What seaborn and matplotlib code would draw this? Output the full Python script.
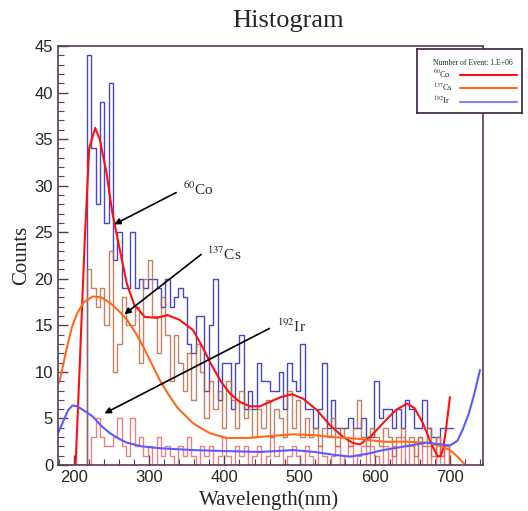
import numpy as np
import pandas as pd
import matplotlib
matplotlib.use('Agg')
import matplotlib.pyplot as plt
import seaborn as sns
from matplotlib.ticker import MultipleLocator

# Histogram binning (ROOT style, fixed width)
bin_start = 182.0
bin_width = 5.8

# Bin contents, one value per bin
co60_counts = [0] * 6 + [
    44, 34, 28, 39, 26, 41, 22, 25, 19, 19,
    25, 19, 20, 19, 20, 20, 19, 17, 20, 17,
    18, 19, 18, 13, 12, 16, 16, 8, 15, 20,
    7, 11, 11, 6, 11, 14, 6, 8, 6, 11,
    9, 9, 8, 8, 10, 6, 11, 9, 8, 13,
    6, 6, 4, 6, 11, 4, 7, 4, 4, 4,
    5, 4, 4, 5, 3, 3, 9, 5, 6, 6,
    4, 6, 4, 7, 6, 4, 4, 7, 4, 3,
    3, 4, 4, 4]
cs137_counts = [0] * 6 + [
    21, 19, 17, 19, 15, 23, 10, 13, 18, 15,
    15, 17, 11, 20, 22, 16, 12, 18, 14, 9,
    14, 11, 8, 12, 7, 13, 10, 5, 9, 6,
    8, 4, 9, 7, 4, 8, 5, 6, 3, 6,
    4, 7, 3, 6, 5, 3, 8, 4, 7, 3,
    5, 3, 4, 2, 4, 3, 5, 2, 4, 3,
    2, 4, 7, 3, 2, 4, 3, 2, 4, 3,
    1, 3, 4, 2, 3, 1, 3, 2, 4, 1,
    3, 1, 2, 0]
ir192_counts = [0] * 6 + [
    0, 3, 5, 3, 2, 2, 3, 5, 2, 1,
    5, 2, 3, 1, 2, 0, 3, 1, 2, 1,
    0, 2, 1, 3, 1, 0, 2, 1, 2, 0,
    1, 3, 1, 0, 2, 1, 2, 0, 1, 2,
    0, 1, 3, 1, 2, 0, 1, 2, 1, 0,
    2, 1, 0, 2, 1, 0, 1, 2, 0, 1,
    2, 0, 1, 2, 0, 2, 1, 0, 2, 0,
    2, 0, 3, 0, 2, 0, 3, 0, 2, 0,
    3, 0, 2, 0]

# Fitted curves
co60_fit_x = [202, 207, 214, 220, 228, 234, 243, 251, 260, 270, 280, 294, 310, 324,
              340, 358, 370, 381, 395, 407, 420, 434, 447, 461, 475, 490, 505, 523,
              540, 558, 570, 580, 595, 611, 628, 643, 653, 664, 675, 684, 688, 691,
              695, 700]
co60_fit_y = [0.2, 9.9, 24, 34, 36.2, 35, 31.4, 27, 23.4, 19.5, 17.2, 15.9, 15.8, 16.1,
              15.6, 14.5, 12.8, 11, 9, 7.7, 6.8, 6.3, 6.3, 6.8, 7.3, 7.6, 7.1, 5.9,
              4.3, 3.0, 2.4, 2.2, 3.1, 4.5, 5.9, 6.6, 6.1, 4.5, 2.3, 0.9, 1.0, 1.8,
              4.0, 7.3]
cs137_fit_x = [179, 181, 190, 197, 204, 213, 225, 236, 248, 260, 270, 281, 292, 303,
               314, 326, 337, 348, 358, 370, 381, 403, 430, 460, 491, 520, 544, 580,
               611, 640, 669, 685, 700, 710, 717, 721]
cs137_fit_y = [8.8, 9.1, 12.5, 14.8, 16.3, 17.5, 18.1, 18.0, 17.4, 16.5, 15.6, 14.3,
               12.7, 10.9, 9.1, 7.5, 6.2, 5.3, 4.5, 3.9, 3.4, 2.9, 2.9, 3.1, 3.3, 3.2,
               3.0, 2.8, 2.5, 2.5, 2.4, 2.1, 1.6, 0.9, 0.3, 0.0]
ir192_fit_x = [179, 185, 192, 198, 204, 212, 225, 236, 248, 260, 270, 290, 314, 358,
               400, 447, 491, 520, 545, 567, 590, 611, 640, 669, 690, 700, 710, 717,
               725, 732, 740]
ir192_fit_y = [3.5, 4.6, 5.9, 6.4, 6.3, 5.9, 5.2, 4.2, 3.4, 2.8, 2.4, 2.0, 1.8, 1.6,
               1.5, 1.4, 1.6, 1.4, 1.1, 0.9, 1.2, 1.6, 2.0, 2.4, 2.2, 2.1, 2.6, 3.8,
               5.5, 7.5, 10.2]

# Arrow annotations: (label, text xy, arrow tail, arrow head)
annotations = [
    (r'$^{60}$Co', (345, 29.6), (339, 29.4), (250, 25.7)),
    (r'$^{137}$Cs', (377, 22.6), (372, 22.8), (264, 16.0)),
    (r'$^{192}$Ir', (470, 14.9), (463, 14.8), (237, 5.4)),
]

sns.set_style('white')
plt.rcParams['font.family'] = ['Liberation Sans', 'DejaVu Sans']
plt.rcParams['mathtext.fontset'] = 'stix'
serif = ['Liberation Serif', 'DejaVu Serif']
frame_col = '#5a3c5a'

fig = plt.figure(figsize=(5.28, 5.11), dpi=100)
ax = fig.add_axes([58 / 528, 46 / 511, 425 / 528, 419 / 511])

n_bins = len(co60_counts)
bin_end = bin_start + bin_width * n_bins
centers = bin_start + bin_width * (np.arange(n_bins) + 0.5)
hist_df = pd.DataFrame({'center': centers, 'co60': co60_counts,
                        'cs137': cs137_counts, 'ir192': ir192_counts})

# data histograms
hist_styles = [('co60', '#3434b8', 0.9), ('cs137', '#b5653d', 0.8), ('ir192', '#e05a5a', 0.75)]
for col_name, col, a in hist_styles:
    sns.histplot(data=hist_df, x='center', weights=col_name, binwidth=bin_width,
                 binrange=(bin_start, bin_end), element='step', fill=False,
                 color=col, linewidth=1.0, alpha=a, ax=ax)

# fitted curves
fits = [(co60_fit_x, co60_fit_y, '#ff1010'),
        (cs137_fit_x, cs137_fit_y, '#ff6a1a'),
        (ir192_fit_x, ir192_fit_y, '#5a5aff')]
for fx, fy, col in fits:
    sns.lineplot(x=fx, y=fy, sort=False, estimator=None, color=col, linewidth=1.5, ax=ax)

for label, txy, tail, head in annotations:
    ax.annotate('', xy=head, xytext=tail,
                arrowprops=dict(arrowstyle='-|>', color='black', lw=1.2, mutation_scale=9))
    ax.text(txy[0], txy[1], label, fontsize=11, family=serif, va='center', ha='left')

ax.set_xlim(178.5, 744)
ax.set_ylim(0, 45)
ax.set_xlabel('')
ax.set_ylabel('')
ax.xaxis.set_major_locator(MultipleLocator(100))
ax.xaxis.set_minor_locator(MultipleLocator(20))
ax.yaxis.set_major_locator(MultipleLocator(5))
ax.yaxis.set_minor_locator(MultipleLocator(1))
ax.tick_params(which='both', direction='in', color=frame_col, top=False, right=False,
               bottom=True, left=True, labelsize=12)
ax.tick_params(which='major', length=7, width=1)
ax.tick_params(which='minor', length=4, width=0.8)
for s in ax.spines.values():
    s.set_color(frame_col)
    s.set_linewidth(1.2)

fig.text(288 / 528, 1 - 21 / 511, 'Histogram', fontsize=19, family=serif, ha='center', va='center')
fig.text(22 / 528, 1 - 255 / 511, 'Counts', fontsize=15, family=serif, rotation=90,
         ha='center', va='center')
fig.text(269 / 528, 1 - 500 / 511, 'Wavelength(nm)', fontsize=15, family=serif,
         ha='center', va='center')

# legend box (ROOT TLegend look)
lax = fig.add_axes([417 / 528, 1 - 113 / 511, 105 / 528, 64 / 511])
lax.set_xlim(0, 105)
lax.set_ylim(64, 0)
lax.set_xticks([])
lax.set_yticks([])
lax.set_facecolor('white')
for s in lax.spines.values():
    s.set_color('#3a2040')
    s.set_linewidth(1.2)
lax.text(56, 14, 'Number of Event: 1.E+06', fontsize=5.5, family=serif, ha='center', va='center')
legend_entries = [(r'$^{60}$Co', '#ff1010'), (r'$^{137}$Cs', '#ff6a1a'), (r'$^{192}$Ir', '#8080ff')]
for k, (lab, col) in enumerate(legend_entries):
    yy = 25 + 13.5 * k
    lax.text(16, yy, lab, fontsize=6, family=serif, ha='left', va='center')
    lax.plot([43, 100], [yy + 1, yy + 1], color=col, lw=1.5)

fig.savefig('out.png', dpi=100)
